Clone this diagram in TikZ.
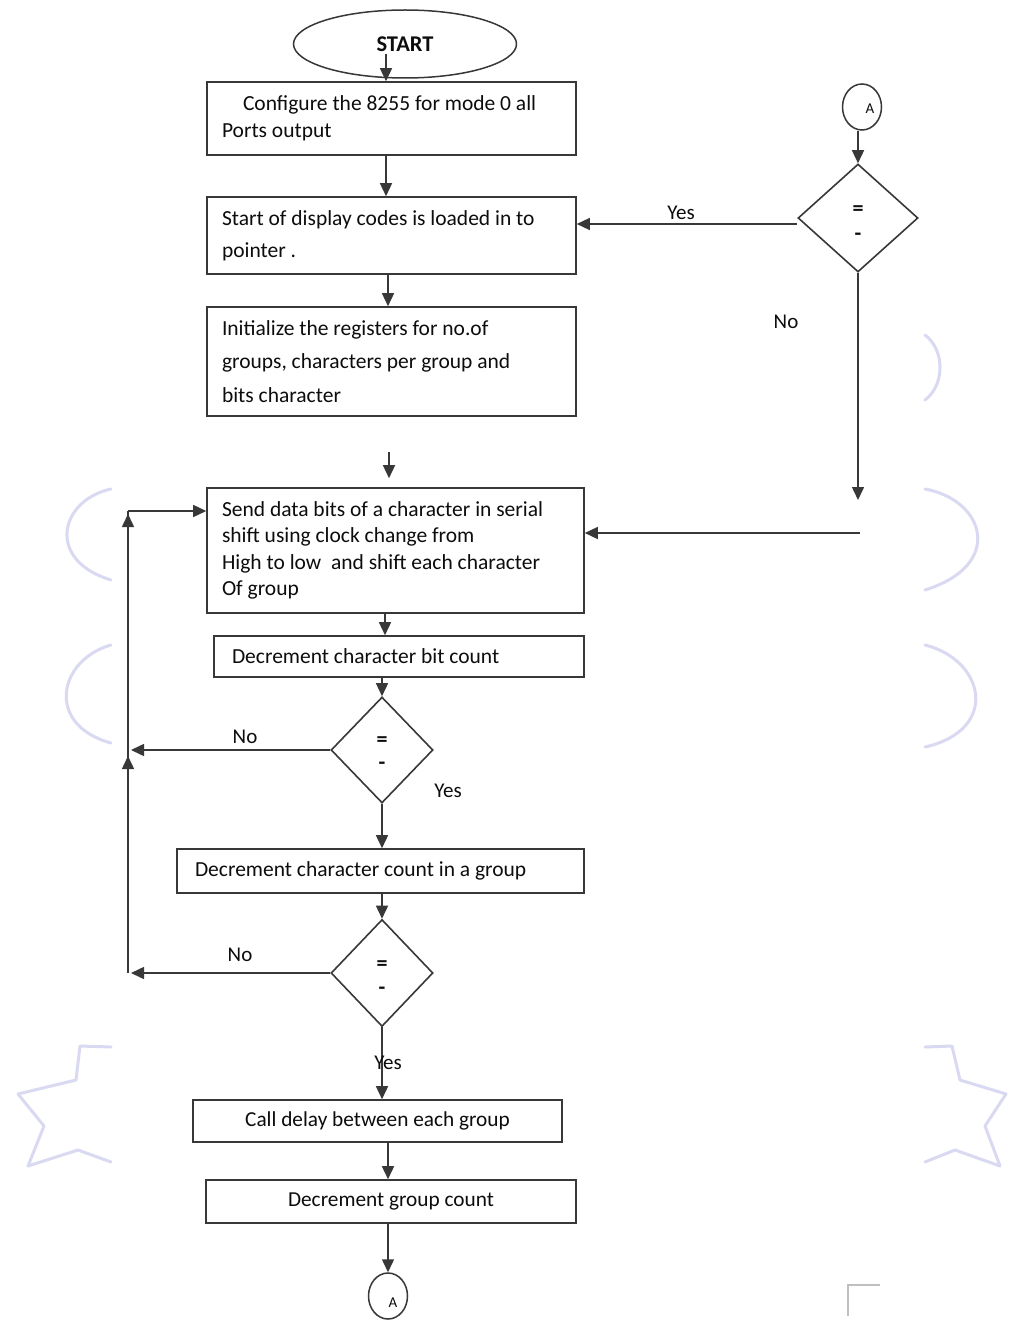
\documentclass[tikz,border=0pt]{standalone}
\usepackage{fontspec}
\setmainfont{Carlito}
\usetikzlibrary{arrows.meta,shapes.geometric}
\definecolor{linec}{gray}{0.22}
\definecolor{textc}{gray}{0.05}
\definecolor{wmark}{rgb}{0.85,0.85,0.95}
\tikzset{
  box/.style={draw=linec, line width=1.6pt, rectangle, inner ysep=0pt, inner xsep=15pt, align=flush left, text=textc},
  cbox/.style={draw=linec, line width=1.6pt, rectangle, inner sep=0pt, align=center, text=textc, font=\fontsize{21.3}{24}\selectfont},
  dec/.style={draw=linec, line width=1.6pt, diamond, inner sep=0pt},
  conn/.style={draw=linec, line width=1.5pt, ellipse, inner sep=0pt},
  arr/.style={draw=linec, line width=1.5pt, -{Triangle[length=13pt,width=12pt]}},
  ln/.style={draw=linec, line width=1.5pt},
  lbl/.style={text=textc, font=\fontsize{21}{24}\selectfont, inner sep=0pt},
  dsym/.style={text=textc, font=\fontsize{22}{22}\bfseries\selectfont, inner sep=0pt},
  clet/.style={text=textc, font=\fontsize{15}{15}\selectfont, inner sep=0pt},
  wm/.style={draw=wmark, line width=3pt, line cap=round, line join=round}
}
\begin{document}
\begin{tikzpicture}[x=1pt,y=-1pt]
\useasboundingbox (0,0) rectangle (1009,1321);
\fill[white] (0,0) rectangle (1009,1321);
% faint watermark remnants at the sides
\draw[wm] (111,489) .. controls (60,500) and (45,560) .. (111,580);
\draw[wm] (111,645) .. controls (58,660) and (45,725) .. (111,743);
\draw[wm] (925,489) .. controls (985,500) and (1005,565) .. (925,590);
\draw[wm] (925,645) .. controls (985,660) and (1000,730) .. (925,747);
\draw[wm] (925,335) .. controls (945,350) and (945,385) .. (925,400);
\draw[wm] (111,1047) -- (80,1046) -- (76,1080) -- (18,1094) -- (44,1126) -- (28,1166) -- (78,1150) -- (111,1162);
\draw[wm] (925,1047) -- (952,1046) -- (960,1080) -- (1006,1094) -- (985,1126) -- (1000,1166) -- (955,1150) -- (925,1162);

% nodes
\node[conn, minimum width=223pt, minimum height=68pt, text=textc, font=\fontsize{22.5}{24}\bfseries\selectfont] (start) at (405,44) {START};

\node[box, text width=339pt, minimum height=73pt, font=\fontsize{21.5}{27}\selectfont] (b1) at (391.5,118.5)
  {\hspace*{21pt}Configure the 8255 for mode 0 all\\Ports output};
\node[box, text width=339pt, minimum height=77pt, font=\fontsize{21.5}{32}\selectfont] (b2) at (391.5,235.5)
  {Start of display codes is loaded in to\\pointer .};
\node[box, text width=339pt, minimum height=109pt, font=\fontsize{21.5}{33.5}\selectfont] (b3) at (391.5,361.5)
  {Initialize the registers for no.of\\groups, characters per group and\\bits character};
\node[box, text width=347pt, minimum height=125pt, font=\fontsize{21.5}{26.3}\selectfont] (b4) at (395.5,550.5)
  {Send data bits of a character in serial\\shift using clock change from\\High to low\ \ and shift each character\\Of group};
\node[box, inner xsep=18pt, text width=334pt, minimum height=41pt, font=\fontsize{21.5}{24}\selectfont] (b5) at (399,656.5)
  {Decrement character bit count};
\node[dec, minimum width=102pt, minimum height=106pt] (d1) at (382,750) {};
\node[box, inner xsep=18pt, text width=371pt, minimum height=44pt, font=\fontsize{21.5}{24}\selectfont] (b6) at (380.5,871)
  {Decrement character count in a group};
\node[dec, minimum width=102pt, minimum height=107pt] (d2) at (382,973) {};
\node[cbox, minimum width=369pt, minimum height=42pt] (b7) at (377.5,1121) {Call delay between each group};
\node[cbox, minimum width=370pt, minimum height=43pt] (b8) at (391,1201.5) {Decrement group count};
\node[conn, minimum width=39pt, minimum height=46pt] (cb) at (388,1296) {};
\node[clet] (cbA) at (393,1303) {A};

\node[conn, minimum width=39pt, minimum height=46pt] (ca) at (862,107) {};
\node[clet] (caA) at (870,109) {A};
\node[dec, minimum width=120pt, minimum height=108pt] (d3) at (858,218) {};

% diamond symbols
\node[dsym] (d1e) at (382,742) {=};
\node[dsym] (d1m) at (382,766) {-};
\node[dsym] (d2e) at (382,966) {=};
\node[dsym] (d2m) at (382,991) {-};
\node[dsym] (d3e) at (858,211) {=};
\node[dsym] (d3m) at (858,237) {-};

% free connector ends
\coordinate (s1) at (389,452);
\coordinate (n1) at (858,500);
\coordinate (n2) at (860,533);
\coordinate (l1) at (131,750);
\coordinate (l2) at (131,973);
\coordinate (lb) at (128,973);
\coordinate (lt) at (128,511);
\coordinate (u1a) at (128,792);
\coordinate (u1b) at (128,756);
\coordinate (u2a) at (128,545);
\coordinate (u2b) at (128,514);

% connectors
\draw[arr] ([xshift=-19pt,yshift=-10pt]start.center) -- ([xshift=-5.5pt]b1.north);
\draw[arr] ([xshift=-5.5pt]b1.south) -- ([xshift=-5.5pt]b2.north);
\draw[arr] ([xshift=-3.5pt]b2.south) -- ([xshift=-3.5pt]b3.north);
\draw[arr] (s1) -- ([xshift=-6.5pt,yshift=9pt]b4.north);
\draw[arr] ([xshift=-10.5pt]b4.south) -- ([xshift=-14pt]b5.north);
\draw[arr] (d1.north |- b5.south) -- (d1.north);
\draw[arr] (d1.south) -- (d1.south |- b6.north);
\draw[arr] (d2.north |- b6.south) -- (d2.north);
\draw[arr] (d2.south) -- (d2.south |- b7.north);
\draw[arr] ([xshift=10.5pt]b7.south) -- ([xshift=10.5pt]b7.south |- b8.north);
\draw[arr] (cb.north |- b8.south) -- (cb.north);

\draw[arr] (d3.north |- ca.south) -- (d3.north);
\draw[arr] ([yshift=-6pt]d3.west) -- ([yshift=-6pt]d3.west -| b2.east);
\draw[arr] (d3.south) -- (n1);
\draw[arr] (n2) -- (n2 -| b4.east);

\draw[arr] (d1.west) -- (l1);
\draw[arr] (d2.west) -- (l2);
\draw[ln] (lb) -- (lt);
\draw[arr] (lt) -- ([yshift=39.5pt]b4.west);
\draw[arr] (u1a) -- (u1b);
\draw[arr] (u2a) -- (u2b);

% labels
\node[lbl] (yes3) at (681,213) {Yes};
\node[lbl] (no3) at (786,322) {No};
\node[lbl] (no1) at (245,737) {No};
\node[lbl] (yes1) at (448,791) {Yes};
\node[lbl] (no2) at (240,955) {No};
\node[lbl] (yes2) at (388,1063) {Yes};

% faint corner mark
\draw[draw=black!25, line width=1.5pt] (880,1285) -- (848,1285) -- (848,1316);
\end{tikzpicture}
\end{document}
